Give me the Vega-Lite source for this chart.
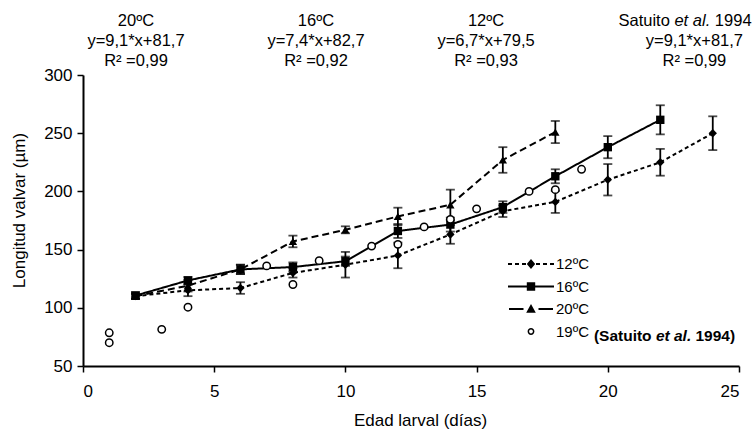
{
  "$schema": "https://vega.github.io/schema/vega-lite/v6.json",
  "width": 656,
  "height": 291,
  "autosize": {"type": "none"},
  "padding": {"left": 83, "top": 75, "right": 13, "bottom": 69},
  "background": "white",
  "config": {
    "view": {"stroke": null},
    "font": "Liberation Sans",
    "axis": {
      "grid": false,
      "domainColor": "black",
      "domainWidth": 2,
      "tickColor": "black",
      "tickWidth": 1.5,
      "tickSize": 6,
      "labelColor": "black",
      "labelFontSize": 17,
      "labelFont": "Liberation Sans",
      "titleFont": "Liberation Sans",
      "titleFontSize": 17,
      "titleFontWeight": "normal",
      "titleColor": "black"
    },
    "text": {"font": "Liberation Sans", "color": "black"}
  },
  "datasets": {
    "exp": [
      {"series": "12ºC", "day": 2, "len": 110, "err": 2},
      {"series": "12ºC", "day": 4, "len": 115, "err": 5},
      {"series": "12ºC", "day": 6, "len": 117, "err": 5},
      {"series": "12ºC", "day": 8, "len": 130, "err": 4},
      {"series": "12ºC", "day": 10, "len": 137, "err": 11},
      {"series": "12ºC", "day": 12, "len": 145, "err": 11},
      {"series": "12ºC", "day": 14, "len": 163, "err": 8},
      {"series": "12ºC", "day": 16, "len": 183, "err": 5},
      {"series": "12ºC", "day": 18, "len": 191, "err": 9.5},
      {"series": "12ºC", "day": 20, "len": 210, "err": 13.5},
      {"series": "12ºC", "day": 22, "len": 225, "err": 11.5},
      {"series": "12ºC", "day": 24, "len": 250, "err": 14.5},
      {"series": "16ºC", "day": 2, "len": 110.5, "err": 3},
      {"series": "16ºC", "day": 4, "len": 123.5, "err": 3},
      {"series": "16ºC", "day": 6, "len": 133, "err": 4},
      {"series": "16ºC", "day": 8, "len": 135, "err": 4},
      {"series": "16ºC", "day": 10, "len": 140, "err": 4},
      {"series": "16ºC", "day": 12, "len": 166, "err": 6},
      {"series": "16ºC", "day": 14, "len": 171.5, "err": 6},
      {"series": "16ºC", "day": 16, "len": 186.5, "err": 5},
      {"series": "16ºC", "day": 18, "len": 213, "err": 6},
      {"series": "16ºC", "day": 20, "len": 238, "err": 9.5},
      {"series": "16ºC", "day": 22, "len": 261.5, "err": 12.5},
      {"series": "20ºC", "day": 2, "len": 110, "err": 2},
      {"series": "20ºC", "day": 4, "len": 119, "err": 5},
      {"series": "20ºC", "day": 6, "len": 133, "err": 4},
      {"series": "20ºC", "day": 8, "len": 157, "err": 5},
      {"series": "20ºC", "day": 10, "len": 167, "err": 3},
      {"series": "20ºC", "day": 12, "len": 178.5, "err": 7.5},
      {"series": "20ºC", "day": 14, "len": 188.5, "err": 13},
      {"series": "20ºC", "day": 16, "len": 227, "err": 11},
      {"series": "20ºC", "day": 18, "len": 251, "err": 9.5}
    ],
    "sat": [
      {"day": 1, "len": 78.5},
      {"day": 1, "len": 70},
      {"day": 3, "len": 81.5},
      {"day": 4, "len": 100.5},
      {"day": 7, "len": 136},
      {"day": 8, "len": 120},
      {"day": 9, "len": 140.5},
      {"day": 11, "len": 153},
      {"day": 12, "len": 154.5},
      {"day": 13, "len": 169.5},
      {"day": 14, "len": 176},
      {"day": 15, "len": 185},
      {"day": 17, "len": 200},
      {"day": 18, "len": 201.5},
      {"day": 19, "len": 219}
    ],
    "notes": [
      {"note": "head"}
    ]
  },
  "layer": [
    {
      "data": {"name": "exp"},
      "mark": {"type": "line", "color": "black", "strokeWidth": 2},
      "encoding": {
        "x": {
          "field": "day", "type": "quantitative", "title": "Edad larval (días)",
          "scale": {"domain": [0, 25], "nice": false, "zero": false},
          "axis": {"values": [0, 5, 10, 15, 20, 25], "labelPadding": 11, "titlePadding": 13, "titleX": 337}
        },
        "y": {
          "field": "len", "type": "quantitative", "title": "Longitud valvar (µm)",
          "scale": {"domain": [50, 300], "nice": false, "zero": false},
          "axis": {"values": [50, 100, 150, 200, 250, 300], "labelPadding": 5, "titlePadding": 15, "titleY": 135}
        },
        "detail": {"field": "series", "type": "nominal"},
        "strokeDash": {
          "field": "series", "type": "nominal",
          "scale": {"domain": ["12ºC", "16ºC", "20ºC"], "range": [[4, 3], [1, 0], [7, 4]]},
          "legend": null
        }
      }
    },
    {
      "data": {"name": "exp"},
      "mark": {"type": "errorbar", "ticks": true, "size": 9, "thickness": 1.8, "color": "black"},
      "encoding": {
        "x": {"field": "day", "type": "quantitative", "title": "Edad larval (días)", "scale": {"domain": [0, 25], "nice": false, "zero": false}},
        "y": {"field": "len", "type": "quantitative", "title": "Longitud valvar (µm)", "scale": {"domain": [50, 300], "nice": false, "zero": false}},
        "yError": {"field": "err"},
        "detail": {"field": "series", "type": "nominal"}
      }
    },
    {
      "data": {"name": "exp"},
      "mark": {"type": "point", "filled": true, "color": "black", "opacity": 1, "size": 70},
      "encoding": {
        "x": {"field": "day", "type": "quantitative", "title": "Edad larval (días)", "scale": {"domain": [0, 25], "nice": false, "zero": false}},
        "y": {"field": "len", "type": "quantitative", "title": "Longitud valvar (µm)", "scale": {"domain": [50, 300], "nice": false, "zero": false}},
        "shape": {
          "field": "series", "type": "nominal",
          "scale": {"domain": ["12ºC", "16ºC", "20ºC"], "range": ["diamond", "square", "triangle-up"]},
          "legend": null
        }
      }
    },
    {
      "data": {"name": "sat"},
      "mark": {"type": "point", "shape": "circle", "fill": "white", "stroke": "black", "strokeWidth": 1.5, "size": 55, "opacity": 1, "fillOpacity": 1},
      "encoding": {
        "x": {"field": "day", "type": "quantitative", "title": "Edad larval (días)", "scale": {"domain": [0, 25], "nice": false, "zero": false}},
        "y": {"field": "len", "type": "quantitative", "title": "Longitud valvar (µm)", "scale": {"domain": [50, 300], "nice": false, "zero": false}}
      }
    },
    {
      "data": {"name": "exp"},
      "transform": [{"filter": "false"}],
      "mark": {"type": "point", "filled": true, "color": "black", "opacity": 1},
      "encoding": {
        "x": {"field": "day", "type": "quantitative", "title": "Edad larval (días)", "scale": {"domain": [0, 25], "nice": false, "zero": false}},
        "y": {"field": "len", "type": "quantitative", "title": "Longitud valvar (µm)", "scale": {"domain": [50, 300], "nice": false, "zero": false}},
        "shape": {
          "field": "series", "type": "nominal",
          "scale": {
            "domain": ["12ºC", "16ºC", "20ºC", "19ºC"],
            "range": [
              "M-2.3,-0.1H-1.9V0.1H-2.3ZM-1.6,-0.1H-1.2V0.1H-1.6ZM-0.9,-0.1H-0.5V0.1H-0.9ZM0.5,-0.1H0.9V0.1H0.5ZM1.2,-0.1H1.6V0.1H1.2ZM1.9,-0.1H2.3V0.1H1.9ZM0,-0.5L0.42,0L0,0.5L-0.42,0Z",
              "M-2.3,-0.1H2.3V0.1H-2.3ZM-0.42,-0.42H0.42V0.42H-0.42Z",
              "M-2.2,-0.1H-0.75V0.1H-2.2ZM0.75,-0.1H2.2V0.1H0.75ZM0,-0.5L0.48,0.38L-0.48,0.38Z",
              "M0.34,0A0.34,0.34,0,1,1,-0.34,0A0.34,0.34,0,1,1,0.34,0ZM0.19,0A0.19,0.19,0,1,0,-0.19,0A0.19,0.19,0,1,0,0.19,0Z"
            ]
          },
          "legend": {
            "orient": "none",
            "legendX": 438,
            "legendY": 179,
            "title": null,
            "padding": 0,
            "symbolSize": 400,
            "labelOffset": 15,
            "rowPadding": 4.5,
            "labelFontSize": 15,
            "labelFont": "Liberation Sans",
            "labelColor": "black",
            "symbolStrokeWidth": 0,
            "symbolFillColor": "black",
            "symbolOpacity": 1
          }
        }
      }
    },
    {
      "data": {"name": "notes"},
      "mark": {"type": "text", "text": ["20ºC", "y=9,1*x+81,7", "R² =0,99"], "align": "center", "baseline": "top", "fontSize": 16.5, "lineHeight": 20},
      "encoding": {
        "x": {"datum": 2.02, "type": "quantitative", "scale": {"domain": [0, 25], "nice": false, "zero": false}},
        "y": {"datum": 353, "type": "quantitative", "scale": {"domain": [50, 300], "nice": false, "zero": false}}
      }
    },
    {
      "data": {"name": "notes"},
      "mark": {"type": "text", "text": ["16ºC", "y=7,4*x+82,7", "R² =0,92"], "align": "center", "baseline": "top", "fontSize": 16.5, "lineHeight": 20},
      "encoding": {
        "x": {"datum": 8.88, "type": "quantitative", "scale": {"domain": [0, 25], "nice": false, "zero": false}},
        "y": {"datum": 353, "type": "quantitative", "scale": {"domain": [50, 300], "nice": false, "zero": false}}
      }
    },
    {
      "data": {"name": "notes"},
      "mark": {"type": "text", "text": ["12ºC", "y=6,7*x+79,5", "R² =0,93"], "align": "center", "baseline": "top", "fontSize": 16.5, "lineHeight": 20},
      "encoding": {
        "x": {"datum": 15.36, "type": "quantitative", "scale": {"domain": [0, 25], "nice": false, "zero": false}},
        "y": {"datum": 353, "type": "quantitative", "scale": {"domain": [50, 300], "nice": false, "zero": false}}
      }
    },
    {
      "data": {"name": "notes"},
      "mark": {"type": "text", "text": ["", "y=9,1*x+81,7", "R² =0,99"], "align": "center", "baseline": "top", "fontSize": 16.5, "lineHeight": 20},
      "encoding": {
        "x": {"datum": 23.3, "type": "quantitative", "scale": {"domain": [0, 25], "nice": false, "zero": false}},
        "y": {"datum": 353, "type": "quantitative", "scale": {"domain": [50, 300], "nice": false, "zero": false}}
      }
    },
    {
      "data": {"name": "notes"},
      "mark": {"type": "text", "text": "Satuito", "align": "left", "baseline": "top", "dx": -66.5, "fontSize": 16.5},
      "encoding": {
        "x": {"datum": 22.94, "type": "quantitative", "scale": {"domain": [0, 25], "nice": false, "zero": false}},
        "y": {"datum": 353, "type": "quantitative", "scale": {"domain": [50, 300], "nice": false, "zero": false}}
      }
    },
    {
      "data": {"name": "notes"},
      "mark": {"type": "text", "text": "et al.", "align": "left", "baseline": "top", "dx": -10.5, "fontSize": 16.5, "fontStyle": "italic"},
      "encoding": {
        "x": {"datum": 22.94, "type": "quantitative", "scale": {"domain": [0, 25], "nice": false, "zero": false}},
        "y": {"datum": 353, "type": "quantitative", "scale": {"domain": [50, 300], "nice": false, "zero": false}}
      }
    },
    {
      "data": {"name": "notes"},
      "mark": {"type": "text", "text": "1994", "align": "left", "baseline": "top", "dx": 29.9, "fontSize": 16.5},
      "encoding": {
        "x": {"datum": 22.94, "type": "quantitative", "scale": {"domain": [0, 25], "nice": false, "zero": false}},
        "y": {"datum": 353, "type": "quantitative", "scale": {"domain": [50, 300], "nice": false, "zero": false}}
      }
    },
    {
      "data": {"name": "notes"},
      "mark": {"type": "text", "text": "(Satuito", "align": "left", "baseline": "middle", "fontSize": 15.5, "fontWeight": "bold"},
      "encoding": {
        "x": {"datum": 19.47, "type": "quantitative", "scale": {"domain": [0, 25], "nice": false, "zero": false}},
        "y": {"datum": 76, "type": "quantitative", "scale": {"domain": [50, 300], "nice": false, "zero": false}}
      }
    },
    {
      "data": {"name": "notes"},
      "mark": {"type": "text", "text": "et al.", "align": "left", "baseline": "middle", "dx": 62, "fontSize": 15.5, "fontWeight": "bold", "fontStyle": "italic"},
      "encoding": {
        "x": {"datum": 19.47, "type": "quantitative", "scale": {"domain": [0, 25], "nice": false, "zero": false}},
        "y": {"datum": 76, "type": "quantitative", "scale": {"domain": [50, 300], "nice": false, "zero": false}}
      }
    },
    {
      "data": {"name": "notes"},
      "mark": {"type": "text", "text": "1994)", "align": "left", "baseline": "middle", "dx": 101.6, "fontSize": 15.5, "fontWeight": "bold"},
      "encoding": {
        "x": {"datum": 19.47, "type": "quantitative", "scale": {"domain": [0, 25], "nice": false, "zero": false}},
        "y": {"datum": 76, "type": "quantitative", "scale": {"domain": [50, 300], "nice": false, "zero": false}}
      }
    }
  ],
  "resolve": {"scale": {"shape": "independent"}}
}
